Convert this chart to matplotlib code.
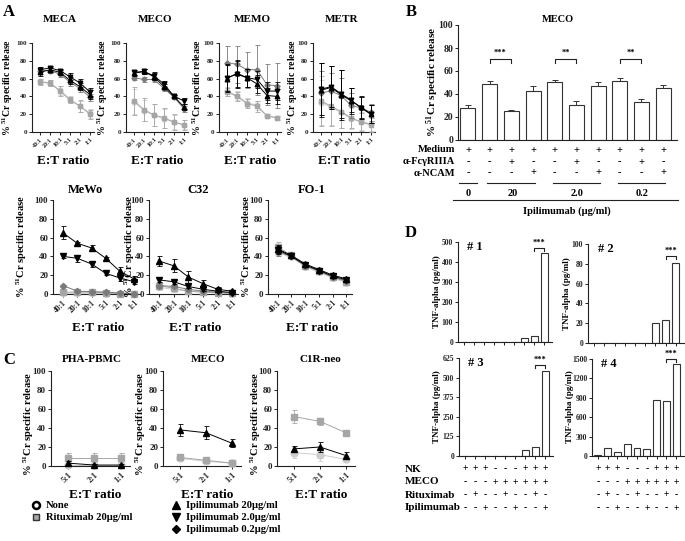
import numpy as np
import matplotlib
matplotlib.use("Agg")
import matplotlib.pyplot as plt
from matplotlib.lines import Line2D
from matplotlib.transforms import blended_transform_factory

plt.rcParams.update({
    "font.family": ["Liberation Serif", "DejaVu Serif"],
    "font.weight": "bold",
    "mathtext.fontset": "custom",
    "mathtext.rm": "Liberation Serif:bold",
    "mathtext.it": "Liberation Serif:italic:bold",
    "mathtext.bf": "Liberation Serif:bold",
    "axes.linewidth": 0.8,
    "axes.edgecolor": "#222222",
    "xtick.color": "#222222",
    "ytick.color": "#222222",
})

# ---------------- data ----------------
ET_A = ["40:1", "20:1", "10:1", "5:1", "2:1", "1:1"]
ET_C = ["5:1", "2:1", "1:1"]
SERIES = ["None", "Rituximab 20µg/ml", "Ipilimumab 20µg/ml",
          "Ipilimumab 2.0µg/ml", "Ipilimumab 0.2µg/ml"]
# series order in each table: None, Rituximab, Ipi 20, Ipi 2.0, Ipi 0.2
MECA_MEAN = [[57, 55, 47, 37, 29, 21], [56, 55, 46, 36, 29, 20],
             [67, 70, 67, 58, 51, 42], [70, 72, 69, 62, 55, 45],
             [69, 69, 65, 56, 49, 39]]
MECA_ERR = [[3, 3, 5, 3, 6, 5], [3, 3, 6, 3, 7, 5], [4, 3, 3, 4, 4, 5],
            [3, 2, 2, 4, 4, 5], [4, 3, 3, 4, 4, 4]]
MECO_MEAN = [[34, 24, 19, 15, 11, 8], [35, 25, 19, 16, 11, 8],
             [66, 68, 62, 51, 40, 28], [67, 68, 63, 54, 40, 35],
             [61, 59, 59, 49, 39, 26]]
MECO_ERR = [[14, 12, 12, 11, 8, 5], [16, 13, 12, 11, 9, 6], [3, 3, 4, 3, 2, 3],
            [3, 3, 4, 3, 2, 3], [3, 3, 3, 3, 2, 3]]
MEMO_MEAN = [[46, 41, 33, 30, 18, 16], [45, 40, 32, 29, 18, 16],
             [60, 66, 61, 54, 41, 40], [61, 65, 61, 59, 46, 46],
             [78, 76, 70, 70, 53, 52]]
MEMO_ERR = [[5, 5, 5, 5, 2, 2], [5, 5, 5, 6, 2, 2], [15, 15, 10, 10, 8, 8],
            [15, 15, 10, 10, 10, 10], [19, 21, 20, 28, 23, 25]]
METR_MEAN = [[33, 28, 22, 15, 12, 9], [35, 29, 23, 16, 11, 8],
             [47, 50, 42, 35, 28, 20], [48, 51, 43, 36, 27, 20],
             [44, 46, 41, 30, 27, 22]]
METR_ERR = [[25, 20, 17, 12, 10, 8], [28, 22, 18, 12, 10, 8],
            [30, 24, 28, 15, 12, 10], [29, 23, 27, 14, 12, 10],
            [25, 20, 20, 14, 12, 10]]
MEWO_MEAN = [[1, 1, 1, 0.5, 0, 0], [2, 2, 2, 1.5, 0.5, 0.5],
             [65, 54, 49, 38, 24, 16], [40, 38, 32, 22, 17, 13],
             [9, 3, 2.5, 2, 1, 0.5]]
MEWO_ERR = [[0.5] * 6, [1] * 6, [7, 1.5, 3, 1.5, 5, 3], [1.5, 4, 3, 1.5, 3, 2],
            [1, 1, 1, 1, 0.5, 0.5]]
C32_MEAN = [[7, 5, 3, 2, 1, 0.5], [9, 6, 3, 2, 1.5, 1], [35, 30, 18, 11, 5, 3],
            [15, 13, 8, 5, 3, 1.5], [9, 8, 5, 3, 2, 1]]
C32_ERR = [[3, 3, 2, 1, 1, 0.5], [4, 3, 2, 1, 1, 0.5], [5, 7, 6, 4, 2, 1],
           [2, 2, 2, 1.5, 1, 1], [3, 2, 2, 1, 1, 1]]
FO1_MEAN = [[44, 39, 29, 23, 17, 12], [50, 41, 30, 24, 18, 13],
            [48, 41, 32, 26, 20, 16], [47, 40, 31, 25, 19, 15],
            [45, 40, 30, 25, 18, 14]]
FO1_ERR = [[3, 2, 2, 2, 1, 1], [5, 2, 2, 2, 2, 1], [4, 2, 2, 2, 2, 1],
           [4, 2, 2, 2, 2, 1], [5, 2, 2, 2, 2, 1]]
# panel C: None, Rituximab, Ipi 20
PBMC_MEAN = [[1, 1, 1], [8, 8, 8], [3, 1, 1]]
PBMC_ERR = [[1, 1, 1], [6, 6, 6], [2, 1, 1]]
CMECO_MEAN = [[8, 5, 3], [9, 6, 3], [38, 35, 24]]
CMECO_ERR = [[1, 1, 1], [1.5, 1, 1], [6, 7, 4]]
C1R_MEAN = [[14, 12, 7], [52, 47, 35], [18, 20, 11]]
C1R_ERR = [[6, 7, 3], [7, 4, 3], [3, 5, 4]]

# panel B
B_MEAN = [28, 49, 25, 43, 50, 30, 47, 51, 33, 45]
B_ERR = [2.5, 2.5, 1.5, 4, 2.5, 4, 3, 2.5, 3, 3]
B_MEDIUM = "++++++++++"
B_FCG = "--+--+--+-"
B_NCAM = "---+--+--+"
B_GROUPS = ["0", "20", "2.0", "0.2"]
B_GROUP_BARS = [(0, 0), (1, 3), (4, 6), (7, 9)]
B_SIG = [(1, 2, "***"), (4, 5, "**"), (7, 8, "**")]

# panel D
D1_TNF = [0, 0, 0, 0, 0, 0, 18, 32, 445]
D2_TNF = [0, 0, 0, 0, 0, 0, 20, 23, 81]
D3_TNF = [0, 0, 0, 0, 0, 0, 40, 55, 545]
D4_TNF = [15, 125, 65, 185, 125, 110, 870, 850, 1425]
D_NK = "+++---+++"
D_MECO = "---++++++"
D_RITUX = "-+--+--+-"
D_IPI = "--+--+--+"

# ---------------- layout ----------------
W, H = 685, 541
fig = plt.figure(figsize=(W / 100, H / 100), dpi=100)


def add_ax(left, top, right, bottom):
    return fig.add_axes([left / W, 1 - bottom / H, (right - left) / W, (bottom - top) / H])


def ftext(x, y, s, **kw):
    kw.setdefault("ha", "center")
    kw.setdefault("va", "center")
    fig.text(x / W, 1 - y / H, s, **kw)


def fline(x0, x1, y, lw=0.8):
    fig.add_artist(Line2D([x0 / W, x1 / W], [1 - y / H, 1 - y / H],
                          transform=fig.transFigure, color="#222222", lw=lw))


def gp_style(ax, ytfs):
    for s in ("top", "right"):
        ax.spines[s].set_visible(False)
    ax.tick_params(axis="both", direction="out", length=2.5, width=0.7, pad=1)
    ax.tick_params(axis="y", labelsize=ytfs)


STYLES = [
    dict(color="#cdcdcd", marker="o", scale=1.0, z=2),
    dict(color="#a6a6a6", marker="s", scale=1.0, z=3),
    dict(color="#000000", marker="^", scale=1.0, z=6),
    dict(color="#000000", marker="v", scale=1.0, z=5),
    dict(color="#7a7a7a", marker="D", scale=0.8, z=4),
]


def line_panel(ax, cats, means, errs, style_idx, ms, ytfs, xtfs, xlim):
    x = np.arange(len(cats))
    for k, si in enumerate(style_idx):
        st = STYLES[si]
        c = ax.errorbar(x, means[k], yerr=errs[k], color=st["color"], marker=st["marker"],
                        ms=ms * st["scale"], mec=st["color"], lw=0.7, elinewidth=0.6,
                        capsize=1.8, capthick=0.6, zorder=st["z"])
        for art in c.get_children():
            art.set_clip_on(False)
    ax.set_ylim(0, 100)
    ax.set_xlim(*xlim)
    ax.set_yticks(range(0, 101, 20))
    ax.set_xticks(x)
    ax.set_xticklabels(cats, rotation=45, ha="right", va="top",
                       rotation_mode="anchor", fontsize=xtfs)
    gp_style(ax, ytfs)


YLAB = r"% $^{51}$Cr specific release"

# ---- panel A top row ----
ftext(9, 12, "A", fontsize=12)
top_specs = [("MECA", 32, 60, 8, MECA_MEAN, MECA_ERR),
             ("MECO", 126, 155, 103, MECO_MEAN, MECO_ERR),
             ("MEMO", 219, 252, 198, MEMO_MEAN, MEMO_ERR),
             ("METR", 313, 342, 293, METR_MEAN, METR_ERR)]
for name, L, tx, yx, mean, err in top_specs:
    ax = add_ax(L, 43, L + 62, 132)
    order = [0, 1, 4, 3, 2]
    line_panel(ax, ET_A, [mean[i] for i in order], [err[i] for i in order], order,
               3.3, 5, 4.3, (-0.8, 5.4))
    ftext(tx, 20, name, fontsize=8)
    ftext(L + 31, 161, "E:T ratio", fontsize=9.5)
    ftext(yx, 88, YLAB, fontsize=7, rotation=90)

# ---- panel A bottom row ----
bot_specs = [("MeWo", 53, 140, 85, 22, MEWO_MEAN, MEWO_ERR),
             ("C32", 149, 238, 198, 130, C32_MEAN, C32_ERR),
             ("FO-1", 268, 352, 312, 247, FO1_MEAN, FO1_ERR)]
for name, L, R, tx, yx, mean, err in bot_specs:
    ax = add_ax(L, 200, R, 294)
    order = [0, 1, 4, 3, 2]
    line_panel(ax, ET_A, [mean[i] for i in order], [err[i] for i in order], order,
               4.0, 6.5, 5.5, (-0.7, 5.4))
    ftext(tx, 190, name, fontsize=9)
    ftext((L + R) / 2 + 2, 328, "E:T ratio", fontsize=9.5)
    ftext(yx, 247, YLAB, fontsize=7.5, rotation=90)

# ---- panel C ----
ftext(9, 360, "C", fontsize=12)
c_specs = [("PHA-PBMC", 51, 130, 92, 29, PBMC_MEAN, PBMC_ERR),
           ("MECO", 163, 241, 208, 141, CMECO_MEAN, CMECO_ERR),
           ("C1R-neo", 277, 355, 320, 256, C1R_MEAN, C1R_ERR)]
for name, L, R, tx, yx, mean, err in c_specs:
    ax = add_ax(L, 371, R, 466)
    line_panel(ax, ET_C, mean, err, [0, 1, 2], 5.0, 6.5, 6, (-0.65, 2.35))
    ftext(tx, 360, name, fontsize=8)
    ftext((L + R) / 2 + 5, 495, "E:T ratio", fontsize=9.5)
    ftext(yx, 424, YLAB, fontsize=7.6, rotation=90)

h_none = Line2D([], [], marker="o", ls="none", mfc="white", mec="black", mew=1.8, ms=5)
h_rit = Line2D([], [], marker="s", ls="none", mfc="#a6a6a6", mec="#333333", mew=1.0, ms=5)
h_i20 = Line2D([], [], marker="^", ls="none", color="black", ms=6)
h_i2 = Line2D([], [], marker="v", ls="none", color="black", ms=6)
h_i02 = Line2D([], [], marker="D", ls="none", color="black", ms=4.5)
leg_kw = dict(loc="upper left", frameon=False, fontsize=7.6, handlelength=0.9,
              handletextpad=0.5, labelspacing=0.25, borderpad=0, borderaxespad=0)
fig.legend([h_none, h_rit], SERIES[:2], bbox_to_anchor=(31 / W, 1 - 501 / H), **leg_kw)
fig.legend([h_i20, h_i2, h_i02], SERIES[2:], bbox_to_anchor=(171 / W, 1 - 501 / H), **leg_kw)

# ---- panel B ----
ftext(411, 12, "B", fontsize=12)
axB = add_ax(458, 25, 677, 140)
xb = np.arange(len(B_MEAN))
axB.bar(xb, B_MEAN, width=0.69, color="white", edgecolor="#333333", lw=0.8,
        yerr=[np.zeros(len(B_ERR)), B_ERR],
        error_kw=dict(elinewidth=0.7, capsize=2.5, capthick=0.7, ecolor="#333333"))
axB.set_xlim(-0.46, 9.64)
axB.set_ylim(0, 100)
axB.set_yticks(range(0, 101, 20))
axB.set_xticks([])
gp_style(axB, 7)
for a, b, s in B_SIG:
    axB.plot([a, a, b, b], [67, 70, 70, 67], color="#222222", lw=0.8)
    axB.text((a + b) / 2, 72, s, ha="center", va="bottom", fontsize=6)
ftext(558, 20, "MECO", fontsize=7.5)
ftext(433, 82, YLAB, fontsize=8, rotation=90)
tB = blended_transform_factory(axB.transData, fig.transFigure)
for label, signs, y in (("Medium", B_MEDIUM, 150), ("α-FcγRIIIA", B_FCG, 162),
                        ("α-NCAM", B_NCAM, 173)):
    ftext(455, y, label, fontsize=7.5, ha="right")
    for i, s in enumerate(signs):
        axB.text(i, 1 - y / H, s, transform=tB, ha="center", va="center", fontsize=7.5)
for lab, (a, b) in zip(B_GROUPS, B_GROUP_BARS):
    x0, x1 = (a - 0.4, b + 0.4) if a == b else (a - 0.1, b + 0.1)
    axB.plot([x0, x1], [1 - 183 / H] * 2, transform=tB, color="#222222", lw=0.8, clip_on=False)
    axB.text((a + b) / 2 + (0 if a == b else 0.05), 1 - 193 / H, lab, transform=tB,
             ha="center", va="center", fontsize=7.5)
fline(453, 678, 200)
ftext(567, 211, "Ipilimumab (µg/ml)", fontsize=7.5)

# ---- panel D ----
ftext(411, 233, "D", fontsize=12)
d_specs = [("# 1", D1_TNF, (458, 242, 552, 342), 500, 100, 437, 292, 470),
           ("# 2", D2_TNF, (588, 244, 684, 343), 100, 20, 567, 294, 88),
           ("# 3", D3_TNF, (459, 358, 553, 456), 625, 125, 437, 407, 580),
           ("# 4", D4_TNF, (592, 359, 684, 456), 1500, 300, 570, 407, 1500)]
d_axes = []
for tag, vals, box, ymax, step, yx, yc, brk in d_specs:
    ax = add_ax(*box)
    pos = np.arange(1, len(vals) + 1)
    ax.bar(pos, vals, width=0.7, color="white", edgecolor="#333333", lw=0.8)
    ax.set_xlim(0.4, 9.8)
    ax.set_ylim(0, ymax)
    ax.set_yticks(np.arange(0, ymax + 1, step))
    ax.set_xticks(pos)
    ax.set_xticklabels([])
    gp_style(ax, 5.5)
    ax.tick_params(axis="x", length=2)
    leg = ymax * 0.03
    ax.plot([8, 8, 9, 9], [brk - leg, brk, brk, brk - leg], color="#222222", lw=0.8, clip_on=False)
    ax.text(8.5, brk + ymax * 0.01, "***", ha="center", va="bottom", fontsize=6, clip_on=False)
    ax.text(0.1, 0.95, tag, transform=ax.transAxes, ha="left", va="center", fontsize=9)
    ftext(yx, yc, "TNF-alpha (pg/ml)", fontsize=6.5, rotation=90)
    d_axes.append(ax)

for label, signs, y in (("NK", D_NK, 469), ("MECO", D_MECO, 482),
                        ("Rituximab", D_RITUX, 495), ("Ipilimumab", D_IPI, 508)):
    ftext(405, y, label, fontsize=8, ha="left")
    for ax in (d_axes[2], d_axes[3]):
        tD = blended_transform_factory(ax.transData, fig.transFigure)
        for i, s in enumerate(signs):
            ax.text(i + 1, 1 - y / H, s, transform=tD, ha="center", va="center", fontsize=7)

fig.savefig("out.png", dpi=100)
